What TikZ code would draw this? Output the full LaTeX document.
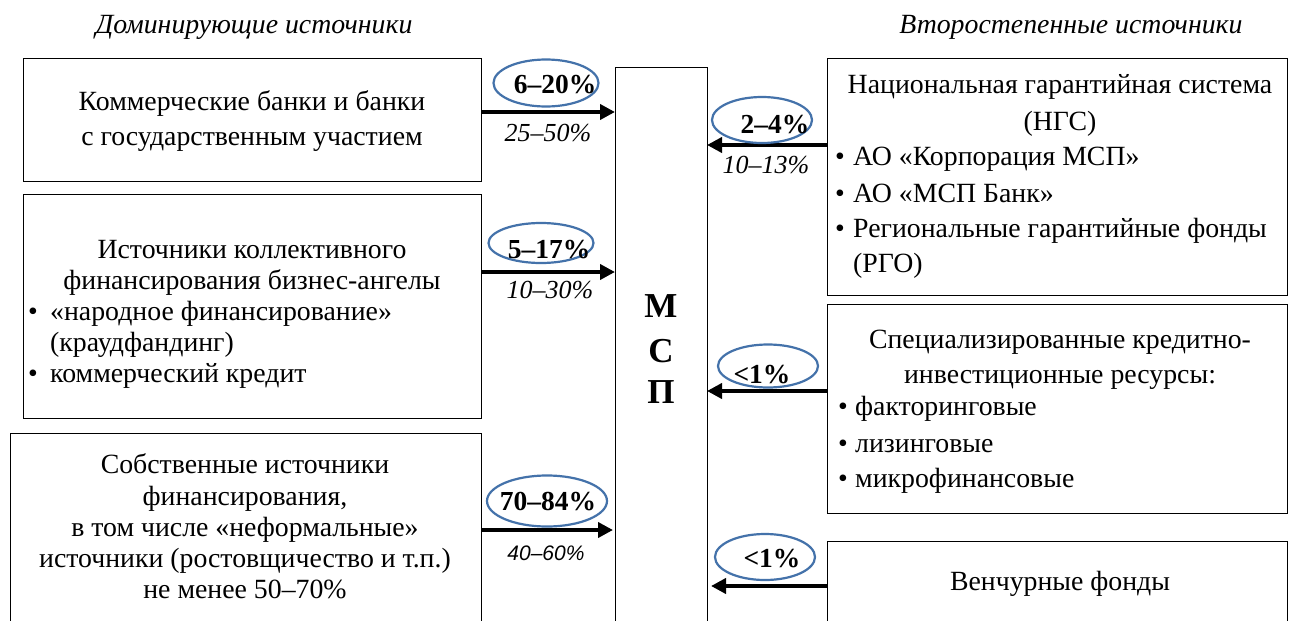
\documentclass[tikz,border=0pt]{standalone}
\usepackage{fontspec}
\setmainfont{Liberation Serif}
\newfontfamily\sansf{Liberation Sans}
\usetikzlibrary{shapes.geometric,arrows.meta}
\definecolor{ellblue}{RGB}{68,114,170}
\newcommand\fmain{\fontsize{27.8pt}{33pt}\selectfont}
\newcommand\fpct{\bfseries\fontsize{27.5pt}{32pt}\selectfont}
\newcommand\fital{\itshape\fontsize{26pt}{30pt}\selectfont}
\newcommand\fsital{\sansf\itshape\fontsize{21pt}{25pt}\selectfont}
\newcommand\fmsp{\bfseries\fontsize{35pt}{40pt}\selectfont}
\newcommand\fhead{\itshape\fontsize{27.8pt}{33pt}\selectfont}
\begin{document}
\begin{tikzpicture}[x=1pt,y=-1pt,
  box/.style={draw, line width=1pt, anchor=north west, inner sep=0pt, outer sep=0pt},
  arr/.style={line width=4pt, -{Triangle[length=15pt,width=15pt]}},
  ell/.style={ellipse, draw=ellblue, line width=2.2pt, inner sep=0pt},
  tc/.style={anchor=base, inner sep=0pt, font=\fmain},
  tl/.style={anchor=base west, inner sep=0pt, font=\fmain},
  pct/.style={anchor=base, inner sep=0pt, font=\fpct},
  ital/.style={anchor=base, inner sep=0pt, font=\fital},
  sital/.style={anchor=base, inner sep=0pt, font=\fsital},
  mspl/.style={anchor=base, inner sep=0pt, font=\fmsp},
  head/.style={anchor=base, inner sep=0pt, font=\fhead}]
\useasboundingbox (0,0) rectangle (1291,621);
\clip (0,0) rectangle (1291,621);
\fill[white] (0,0) rectangle (1291,621);

% headings
\node[head] (h1) at (254,34) {Доминирующие источники};
\node[head] (h2) at (1071,34) {Второстепенные источники};

% boxes
\node[box, minimum width=458pt, minimum height=123pt] (b1) at (23,58) {};
\node[box, minimum width=458pt, minimum height=224pt] (b2) at (23,194) {};
\node[box, minimum width=471pt, minimum height=220pt] (b3) at (10,433) {};
\node[box, minimum width=92pt, minimum height=600pt] (msp) at (615,67) {};
\node[box, minimum width=460pt, minimum height=237pt] (r1) at (827,58) {};
\node[box, minimum width=460pt, minimum height=209pt] (r2) at (827,304) {};
\node[box, minimum width=460pt, minimum height=120pt] (r3) at (827,541) {};

% arrow levels
\coordinate (y1) at (0,112);
\coordinate (y2) at (0,145);
\coordinate (y3) at (0,272);
\coordinate (y4) at (0,391);
\coordinate (y5) at (0,530);
\coordinate (y6) at (0,586);

\draw[arr] (b1.east |- y1) -- (msp.west |- y1);
\draw[arr] (r1.west |- y2) -- (msp.east |- y2);
\draw[arr] (b2.east |- y3) -- (msp.west |- y3);
\draw[arr] (r2.west |- y4) -- (msp.east |- y4);
\draw[arr, shorten >=2pt] (b3.east |- y5) -- (msp.west |- y5);
\draw[arr, shorten >=4pt] (r3.west |- y6) -- (msp.east |- y6);

% ellipses
\node[ell, minimum width=105pt, minimum height=47pt] (e1) at (546,83) {};
\node[ell, minimum width=100pt, minimum height=46pt] (e2) at (762,120) {};
\node[ell, minimum width=105pt, minimum height=40pt] (e3) at (541,243) {};
\node[ell, minimum width=100pt, minimum height=43pt] (e4) at (768,366) {};
\node[ell, minimum width=120pt, minimum height=51pt] (e5) at (547,501) {};
\node[ell, minimum width=100pt, minimum height=46pt] (e6) at (765,557) {};

% percentage labels
\node[pct] (p1) at (555,93) {6–20\%};
\node[pct] (p2) at (775,133) {2–4\%};
\node[pct] (p3) at (549,258) {5–17\%};
\node[pct] (p4) at (762,383) {<1\%};
\node[pct] (p5) at (548,510) {70–84\%};
\node[pct] (p6) at (772,567) {<1\%};

\node[ital] (i1) at (548,141) {25–50\%};
\node[ital] (i2) at (766,173) {10–13\%};
\node[ital] (i3) at (550,298) {10–30\%};
\node[sital] (i4) at (546,560) {40–60\%};

% MSP letters
\node[mspl] (m1) at (661,317) {М};
\node[mspl] (m2) at (661,362) {С};
\node[mspl] (m3) at (661,403) {П};

% left box 1
\node[tc] (l11) at (252,110) {Коммерческие банки и банки};
\node[tc] (l12) at (252,145) {с государственным участием};

% left box 2
\node[tc] (l21) at (252,258) {Источники коллективного};
\node[tc] (l22) at (252,289) {финансирования бизнес-ангелы};
\node[tl] (l23b) at (28,320) {•};
\node[tl] (l23) at (50,320) {«народное финансирование»};
\node[tl] (l24) at (50,351) {(краудфандинг)};
\node[tl] (l25b) at (28,382) {•};
\node[tl] (l25) at (50,382) {коммерческий кредит};

% left box 3
\node[tc] (l31) at (245,473) {Собственные источники};
\node[tc] (l32) at (245,505) {финансирования,};
\node[tc] (l33) at (245,536) {в том числе «неформальные»};
\node[tc] (l34) at (245,567) {источники (ростовщичество и т.п.)};
\node[tc] (l35) at (245,598) {не менее 50–70\%};

% right box 1
\node[tc] (r11) at (1060,93) {Национальная гарантийная система};
\node[tc] (r12) at (1060,130) {(НГС)};
\node[tl] (r13b) at (835,165) {•};
\node[tl] (r13) at (853,165) {АО «Корпорация МСП»};
\node[tl] (r14b) at (835,202) {•};
\node[tl] (r14) at (853,202) {АО «МСП Банк»};
\node[tl] (r15b) at (835,237) {•};
\node[tl] (r15) at (853,237) {Региональные гарантийные фонды};
\node[tl] (r16) at (853,272) {(РГО)};

% right box 2
\node[tc] (r21) at (1060,348) {Специализированные кредитно-};
\node[tc] (r22) at (1060,383) {инвестиционные ресурсы:};
\node[tl] (r23b) at (838,415) {•};
\node[tl] (r23) at (855,415) {факторинговые};
\node[tl] (r24b) at (838,452) {•};
\node[tl] (r24) at (855,452) {лизинговые};
\node[tl] (r25b) at (838,487) {•};
\node[tl] (r25) at (855,487) {микрофинансовые};

% right box 3
\node[tc] (r31) at (1060,590) {Венчурные фонды};
\end{tikzpicture}
\end{document}
